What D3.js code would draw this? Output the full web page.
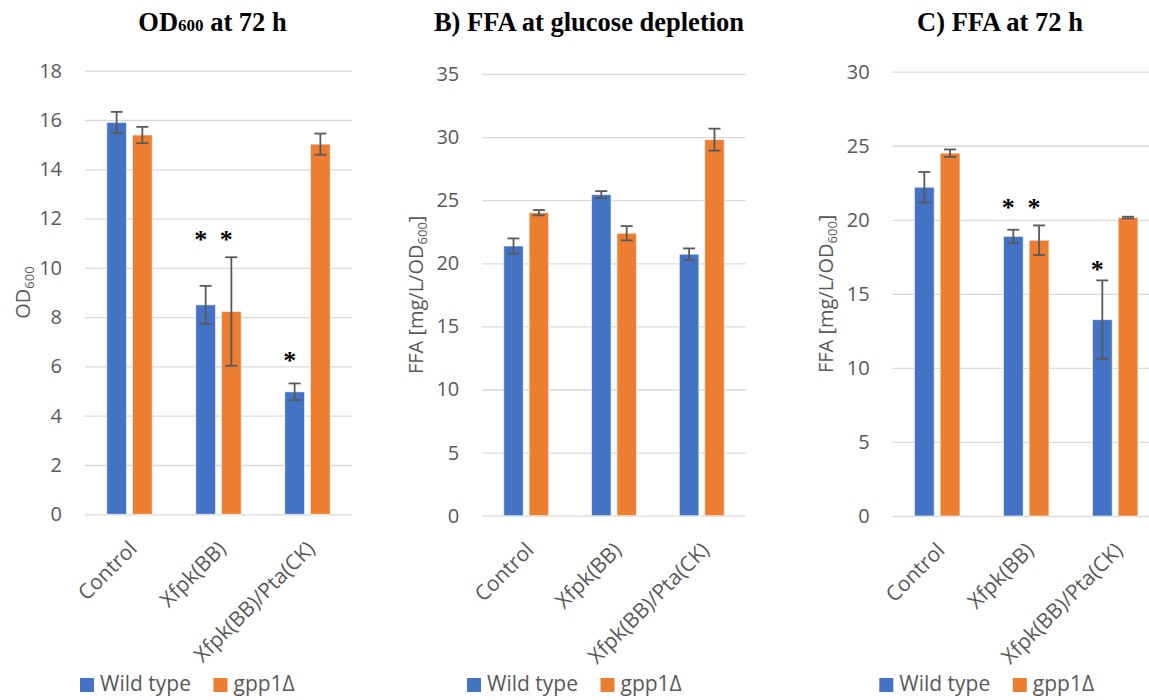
<!DOCTYPE html>
<html>
<head>
<meta charset="utf-8">
<script src="https://cdn.jsdelivr.net/npm/d3@7"></script>
<style>
  body { margin: 0; background: #fff; }
  svg { display: block; font-family: 'Open Sans', sans-serif; }
</style>
</head>
<body>
<svg id="chart" width="1149" height="700"></svg>
<script>
const categories = ['Control', 'Xfpk(BB)', 'Xfpk(BB)/Pta(CK)'];
const seriesNames = ['Wild type', 'gpp1Δ'];
const seriesColors = ['#4472C4', '#ED7D31'];

// A) OD600 at 72 h
const odWild = [15.9, 8.5, 4.97];
const odWildErr = [0.43, 0.77, 0.34];
const odGpp1 = [15.39, 8.23, 15.02];
const odGpp1Err = [0.33, 2.2, 0.43];
const odTicks = [0, 2, 4, 6, 8, 10, 12, 14, 16, 18];
const odStars = [
  { category: 'Xfpk(BB)', series: 0, value: 11.4 },
  { category: 'Xfpk(BB)', series: 1, value: 11.4 },
  { category: 'Xfpk(BB)/Pta(CK)', series: 0, value: 6.47 }
];

// B) FFA at glucose depletion
const deplWild = [21.37, 25.44, 20.72];
const deplWildErr = [0.6, 0.28, 0.46];
const deplGpp1 = [24.01, 22.38, 29.8];
const deplGpp1Err = [0.21, 0.57, 0.87];
const deplTicks = [0, 5, 10, 15, 20, 25, 30, 35];
const deplStars = [];

// C) FFA at 72 h
const ffaWild = [22.2, 18.88, 13.26];
const ffaWildErr = [1.03, 0.45, 2.65];
const ffaGpp1 = [24.5, 18.62, 20.15];
const ffaGpp1Err = [0.25, 1.0, 0.06];
const ffaTicks = [0, 5, 10, 15, 20, 25, 30];
const ffaStars = [
  { category: 'Xfpk(BB)', series: 0, value: 21.22 },
  { category: 'Xfpk(BB)', series: 1, value: 21.22 },
  { category: 'Xfpk(BB)/Pta(CK)', series: 0, value: 17.06 }
];

const panels = [
  {
    title: ['OD', '600', ' at 72 h'], yTitle: ['OD', '600', ''],
    values: [odWild, odGpp1], errors: [odWildErr, odGpp1Err], ticks: odTicks, stars: odStars,
    left: 85, right: 352, top: 70.7, bottom: 514.3, titleX: 212.5, yTitleX: 30, legendX: 80
  },
  {
    title: ['B) FFA at glucose depletion'], yTitle: ['FFA [mg/L/OD', '600', ']'],
    values: [deplWild, deplGpp1], errors: [deplWildErr, deplGpp1Err], ticks: deplTicks, stars: deplStars,
    left: 482.3, right: 745.7, top: 74, bottom: 515.7, titleX: 589, yTitleX: 423, legendX: 467
  },
  {
    title: ['C) FFA at 72 h'], yTitle: ['FFA [mg/L/OD', '600', ']'],
    values: [ffaWild, ffaGpp1], errors: [ffaWildErr, ffaGpp1Err], ticks: ffaTicks, stars: ffaStars,
    left: 892.7, right: 1159.7, top: 71.7, bottom: 516, titleX: 1000, yTitleX: 832.5, legendX: 879.3
  }
];

const svg = d3.select('#chart');
const textColor = '#595959';

function renderPanel(p) {
  const g = svg.append('g');

  const x = d3.scaleBand()
    .domain(categories)
    .range([p.left, p.right]);

  const y = d3.scaleLinear()
    .domain([0, d3.max(p.ticks)])
    .range([p.bottom, p.top]);

  const barW = x.bandwidth() * 0.222;
  const gap = x.bandwidth() * 0.067;
  const barX = (cat, s) => x(cat) + x.bandwidth() / 2 + (s === 0 ? -gap / 2 - barW : gap / 2);

  // gridlines + tick labels
  const yAxis = g.append('g')
    .attr('transform', `translate(${p.left},0)`)
    .call(d3.axisLeft(y).tickValues(p.ticks).tickSize(-(p.right - p.left)).tickPadding(23));
  yAxis.select('.domain').remove();
  yAxis.selectAll('line').attr('stroke', '#d9d9d9').attr('stroke-width', 1.3);
  yAxis.selectAll('text')
    .attr('fill', textColor)
    .attr('font-size', 20)
    .attr('font-family', "'Open Sans', sans-serif");

  // bars
  p.values.forEach((vals, s) => {
    g.selectAll(null)
      .data(categories)
      .enter()
      .append('rect')
      .attr('x', d => barX(d, s))
      .attr('y', (d, i) => y(vals[i]))
      .attr('width', barW)
      .attr('height', (d, i) => y(0) - y(vals[i]))
      .attr('fill', seriesColors[s])
      .attr('stroke', '#fff')
      .attr('stroke-opacity', 0.6)
      .attr('stroke-width', 1);
  });

  // error bars
  p.values.forEach((vals, s) => {
    const errs = p.errors[s];
    const eb = g.selectAll(null)
      .data(categories)
      .enter()
      .append('g')
      .attr('stroke', textColor)
      .attr('stroke-width', 1.8);
    const cx = d => barX(d, s) + barW / 2;
    eb.append('line')
      .attr('x1', cx).attr('x2', cx)
      .attr('y1', (d, i) => y(vals[i] + errs[i]))
      .attr('y2', (d, i) => y(vals[i] - errs[i]));
    eb.append('line')
      .attr('x1', d => cx(d) - 6).attr('x2', d => cx(d) + 6)
      .attr('y1', (d, i) => y(vals[i] + errs[i]))
      .attr('y2', (d, i) => y(vals[i] + errs[i]));
    eb.append('line')
      .attr('x1', d => cx(d) - 6).attr('x2', d => cx(d) + 6)
      .attr('y1', (d, i) => y(vals[i] - errs[i]))
      .attr('y2', (d, i) => y(vals[i] - errs[i]));
  });

  // significance stars
  g.selectAll(null)
    .data(p.stars)
    .enter()
    .append('text')
    .attr('x', d => barX(d.category, d.series) + barW / 2 - 5)
    .attr('y', d => y(d.value))
    .attr('dy', '0.55em')
    .attr('text-anchor', 'middle')
    .attr('font-family', "'Liberation Serif', serif")
    .attr('font-weight', 'bold')
    .attr('font-size', 26)
    .attr('fill', '#000')
    .text('*');

  // category labels
  g.selectAll(null)
    .data(categories)
    .enter()
    .append('text')
    .attr('transform', d => `translate(${x(d) + x.bandwidth() / 2 - 2},${p.bottom + 25}) rotate(-45)`)
    .attr('dy', '0.72em')
    .attr('text-anchor', 'end')
    .attr('font-size', 21)
    .attr('fill', textColor)
    .text(d => d);

  // title
  const title = g.append('text')
    .attr('x', p.titleX)
    .attr('y', 31)
    .attr('text-anchor', 'middle')
    .attr('font-family', "'Liberation Serif', serif")
    .attr('font-weight', 'bold')
    .attr('font-size', 26.5)
    .attr('fill', '#000');
  p.title.forEach((t, i) => {
    title.append('tspan')
      .attr('font-size', i === 1 ? 17 : null)
      .text(t);
  });

  // y axis title
  const yt = g.append('text')
    .attr('transform', `translate(${p.yTitleX},${(p.top + p.bottom) / 2}) rotate(-90)`)
    .attr('text-anchor', 'middle')
    .attr('font-size', 20)
    .attr('fill', textColor);
  yt.append('tspan').text(p.yTitle[0]);
  yt.append('tspan').attr('font-size', 13).attr('dy', 4).text(p.yTitle[1]);
  if (p.yTitle[2]) yt.append('tspan').attr('dy', -4).text(p.yTitle[2]);

  // legend
  const legend = g.append('g').attr('transform', `translate(${p.legendX},678)`);
  seriesNames.forEach((name, s) => {
    const row = legend.append('g').attr('transform', `translate(${s * 133.5},0)`);
    row.append('rect')
      .attr('width', 14)
      .attr('height', 14)
      .attr('fill', seriesColors[s]);
    row.append('text')
      .attr('x', 20)
      .attr('y', 12.5)
      .attr('font-size', 21)
      .attr('fill', textColor)
      .text(name);
  });
}

panels.forEach(renderPanel);
</script>
</body>
</html>
